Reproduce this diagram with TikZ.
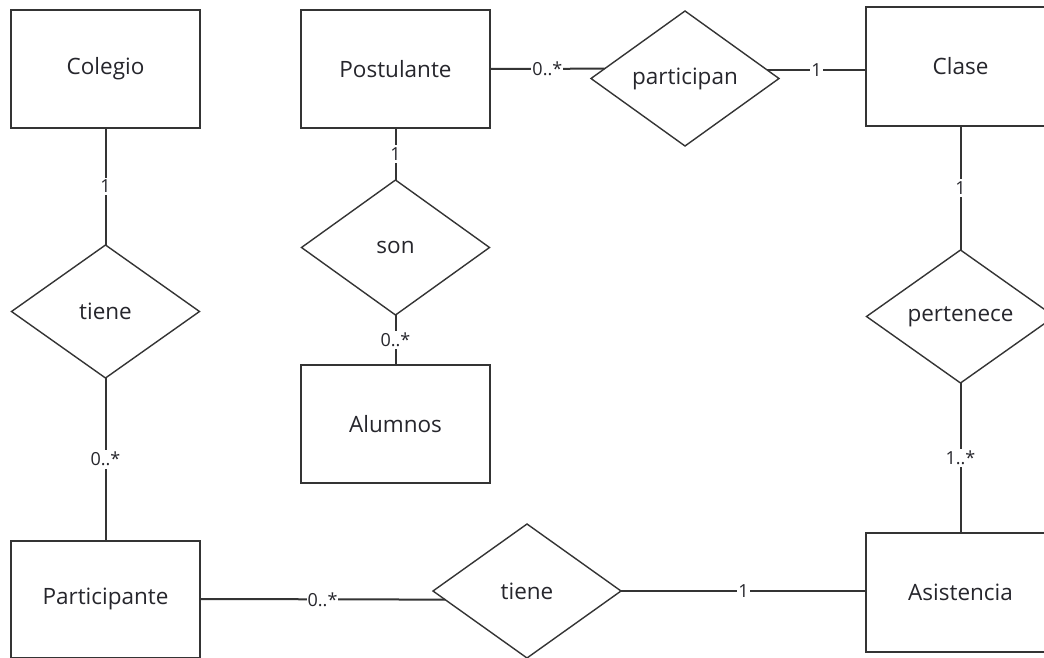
\documentclass[tikz,border=0pt]{standalone}
\usepackage{fontspec}
\setmainfont{Open Sans}
\usetikzlibrary{shapes.geometric}
\definecolor{ink}{RGB}{52,52,52}
\definecolor{txt}{RGB}{38,38,44}

\begin{document}
\begin{tikzpicture}[x=1pt,y=-1pt,
  every node/.style={outer sep=0pt, text=txt},
  entity/.style={draw=ink, line width=2pt, fill=white,
    minimum width=189pt, minimum height=118pt, inner sep=0pt,
    font=\fontsize{22.5}{26}\selectfont},
  relation/.style={diamond, draw=ink, line width=1.4pt, fill=white,
    minimum width=188pt, minimum height=134pt, inner sep=0pt,
    font=\fontsize{22.5}{26}\selectfont},
  link/.style={draw=ink, line width=2pt},
  mult/.style={fill=white, inner xsep=1pt, inner ysep=2.5pt,
    font=\fontsize{18}{20}\selectfont}]

\clip (0,0) rectangle (1044,658);
\fill[white] (0,0) rectangle (1044,658);

% entities
\node[entity] (colegio) at (105.5,69) {Colegio};
\node[entity] (post)    at (395.5,69) {Postulante};
\node[entity, minimum height=119pt] (clase) at (960.5,66.5) {Clase};
\node[entity] (alum)    at (395.5,424) {Alumnos};
\node[entity, minimum height=117pt] (partic) at (105.5,599) {Participante};
\node[entity, minimum height=119pt] (asist) at (960.5,592.5) {Asistencia};

% relationships
\node[relation, minimum height=135pt] (particip) at (685,78.5) {participan};
\node[relation, minimum height=135pt] (son) at (395.5,247.5) {son};
\node[relation, minimum height=133pt] (tieneA) at (105.5,311.5) {tiene};
\node[relation, minimum height=133pt] (perten) at (960.5,316.5) {pertenece};
\node[relation] (tieneB) at (527,591) {tiene};

% connectors with multiplicities
\draw[link] (colegio) -- node[mult]{1} (tieneA);
\draw[link] (tieneA) -- node[mult]{0..*} (partic);
\draw[link] (post) -- node[mult]{1} (son);
\draw[link] (son) -- node[mult]{0..*} (alum);
\draw[link] (post.east) -- node[mult]{0..*} (particip.173.3);
\draw[link] (particip.6.7) -- node[mult]{1} (particip.6.7 -| clase.west);
\draw[link] (clase) -- node[mult]{1} (perten);
\draw[link] (perten) -- node[mult]{1..*} (asist);
\draw[link] (partic.east) -- node[mult]{0..*} (tieneB.186.3);
\draw[link] (tieneB.east) -- node[mult]{1} (tieneB.east -| asist.west);
\end{tikzpicture}
\end{document}
